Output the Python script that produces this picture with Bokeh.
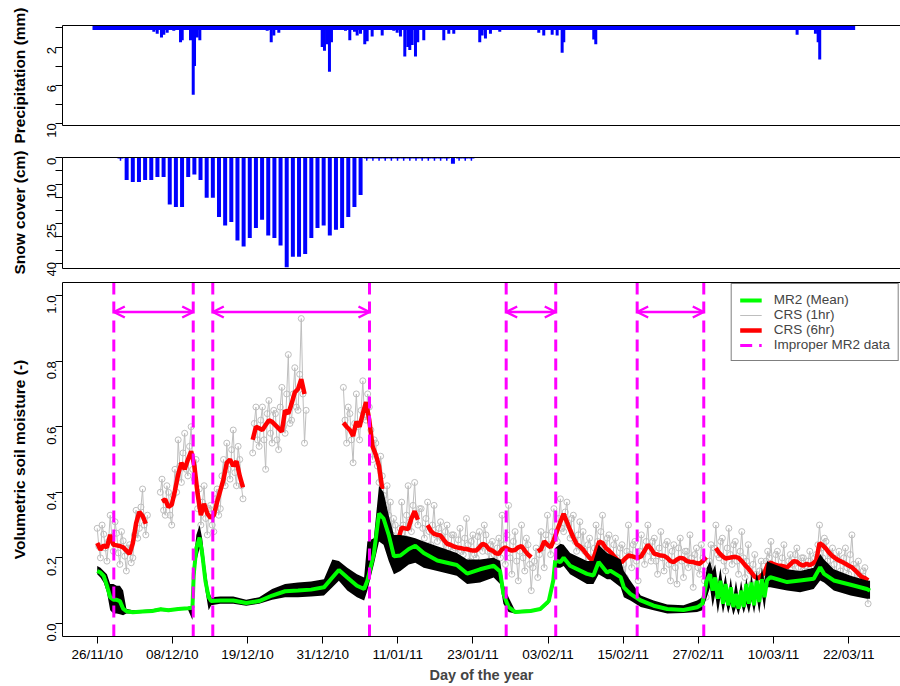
import math
from bokeh.plotting import figure
from bokeh.models import (Range1d, FixedTicker, LinearAxis, ColumnDataSource,
                          Legend, LegendItem, Arrow, OpenHead)
from bokeh.layouts import column, row
from bokeh.core.properties import value
from bokeh.embed import file_html
from bokeh.resources import INLINE

nan = float("nan")

# ---------------- data ----------------
# x unit: days since 26/11/10
precip_record = [-0.73, 117.0]
precip_day = [8.74, 9.26, 9.92, 10.28, 10.8, 11.82, 12.86, 13.12, 14.4, 14.82, 15.02, 15.43, 15.84,
              24.17, 26.24, 26.86, 27.26, 28.03, 34.73, 35.08, 35.5, 35.85, 36.16, 38.32, 38.99,
              39.71, 40.13, 40.64, 41.3, 41.67, 42.44, 43.99, 45.78, 46.3, 46.81, 47.48, 47.94,
              48.25, 48.62, 49.13, 49.48, 50.41, 53.5, 54.27, 55.04, 59.05, 59.42, 59.93, 60.7,
              62.14, 68.16, 68.93, 70.23, 71.0, 71.77, 72.02, 76.65, 76.96, 108.04, 110.87,
              111.29, 111.53]
precip_mm = [0.4, 0.6, 1.0, 0.7, 0.5, 0.3, 1.5, 1.3, 1.3, 7.0, 4.0, 1.0, 1.3,
             0.2, 0.3, 1.5, 0.8, 0.5, 2.0, 2.4, 1.7, 4.6, 1.5, 0.3, 1.3,
             0.4, 0.8, 0.6, 1.7, 1.4, 0.9, 0.8, 0.3, 0.5, 0.9, 3.0, 2.0,
             2.3, 1.8, 3.0, 1.5, 1.3, 1.3, 0.6, 0.6, 1.5, 0.8, 1.1, 0.6,
             0.4, 0.5, 0.8, 0.7, 0.8, 2.6, 1.5, 1.2, 1.7, 0.7, 0.6,
             1.5, 3.3]

snow_obs = list(range(58))          # daily snow readings (index)
snow_cm = [0, 8.4, 9.2, 9.2, 8.4, 8.4, 7.3, 7.3, 17.7, 18.7,
           18.7, 7.3, 6.3, 8.4, 15.2, 15.2, 22.5, 25.7, 24.4, 31.4,
           33.7, 30.4, 26.6, 23.5, 29.5, 30.4, 33.3, 41.5, 37.5, 37.5,
           36.5, 30.4, 26.6, 25.7, 29.5, 27.3, 26.6, 22.5, 18.7, 14.1,
           0, 0, 0, 0, 0, 0, 0, 0, 0, 0,
           0, 0, 0, 0, 2.3, 0, 0, 0]

tick_days = [0.0, 11.6, 23.2, 34.8, 46.4, 58.0, 69.6, 81.2, 92.8, 104.4, 116.0]
tick_labels = ["26/11/10", "08/12/10", "19/12/10", "31/12/10", "11/01/11", "23/01/11",
               "03/02/11", "15/02/11", "27/02/11", "10/03/11", "22/03/11"]

precip_ticks = [0, 2, 4, 6, 8, 10]
precip_tick_labels = ["", "2", "", "6", "", "10"]
snow_ticks = [0, 5, 10, 15, 20, 25, 30, 35, 40]
snow_tick_labels = ["0", "", "10", "", "", "25", "", "", "40"]
vsm_ticks = [0.0, 0.2, 0.4, 0.6, 0.8, 1.0]
vsm_tick_labels = ["0.0", "0.2", "0.4", "0.6", "0.8", "1.0"]

improper_start = [2.56, 17.84, 63.13, 83.35]
improper_end = [14.82, 42.03, 70.78, 93.63]

mr2_day = [0.0, 0.5, 1.0, 1.5, 2.0, 2.5, 3.0, 3.5, 4.0, 4.5, 5.5, 7.0, 8.5, 9.8, 11.0, 12.5, 14.0,
           14.7, 14.9, 15.3, 15.8, 16.2, 16.7, 17.2, 17.6, 19.0, 21.0, 23.0, 25.0, 27.0, 29.0,
           31.0, 33.0, 35.0, 36.3, 37.3, 38.6, 40.1, 41.2, 41.7, 42.7, 43.5, 44.2, 45.0, 45.8,
           46.8, 48.1, 49.1, 50.4, 52.5, 55.5, 57.1, 59.1, 61.2, 62.2, 62.7, 63.5, 64.5, 66.9,
           68.4, 69.7, 70.4, 70.7, 71.5, 72.0, 73.0, 75.6, 76.6, 77.4, 78.7, 79.2, 80.8, 81.3,
           82.3, 83.9, 85.9, 88.0, 90.5, 92.6, 93.4, 94.1, 94.6, 95.0, 95.4, 95.8, 96.2, 96.6,
           97.0, 97.4, 97.8, 98.2, 98.6, 99.0, 99.4, 99.8, 100.2, 100.6, 101.0, 101.4, 101.8,
           102.2, 102.6, 103.0, 103.4, 103.9, 106.5, 108.5, 110.6, 111.6, 112.2, 113.7, 116.3,
           118.8, 119.3]
mr2_mean = [0.160, 0.155, 0.145, 0.115, 0.080, 0.072, 0.072, 0.068, 0.045, 0.037, 0.034, 0.036,
            0.038, 0.043, 0.040, 0.044, 0.046, 0.048, 0.150, 0.230, 0.262, 0.215, 0.130, 0.080,
            0.068, 0.070, 0.070, 0.062, 0.068, 0.085, 0.098, 0.100, 0.103, 0.110, 0.140, 0.163,
            0.140, 0.115, 0.105, 0.130, 0.212, 0.335, 0.320, 0.270, 0.205, 0.207, 0.227, 0.237,
            0.215, 0.192, 0.178, 0.152, 0.165, 0.176, 0.158, 0.090, 0.050, 0.035, 0.038, 0.044,
            0.068, 0.131, 0.192, 0.187, 0.200, 0.176, 0.151, 0.146, 0.187, 0.155, 0.161, 0.141,
            0.110, 0.090, 0.070, 0.054, 0.044, 0.041, 0.049, 0.059, 0.131, 0.150, 0.100, 0.140,
            0.075, 0.130, 0.060, 0.120, 0.055, 0.110, 0.050, 0.090, 0.045, 0.100, 0.050, 0.120,
            0.060, 0.125, 0.055, 0.130, 0.065, 0.135, 0.080, 0.131, 0.141, 0.126, 0.131, 0.136,
            0.171, 0.151, 0.131, 0.118, 0.105, 0.100]
mr2_lo = [0.150, 0.140, 0.125, 0.095, 0.040, 0.030, 0.030, 0.028, 0.025, 0.030, 0.030, 0.032,
          0.034, 0.038, 0.036, 0.040, 0.042, 0.010, 0.100, 0.190, 0.230, 0.180, 0.100, 0.040,
          0.055, 0.060, 0.060, 0.054, 0.060, 0.072, 0.080, 0.080, 0.082, 0.085, 0.110, 0.130,
          0.100, 0.080, 0.070, 0.100, 0.180, 0.250, 0.240, 0.190, 0.150, 0.160, 0.180, 0.185,
          0.170, 0.160, 0.145, 0.120, 0.125, 0.140, 0.120, 0.060, 0.035, 0.030, 0.034, 0.040,
          0.060, 0.110, 0.170, 0.170, 0.175, 0.150, 0.120, 0.120, 0.150, 0.135, 0.135, 0.110,
          0.080, 0.070, 0.050, 0.040, 0.030, 0.032, 0.035, 0.040, 0.080, 0.110, 0.050, 0.090,
          0.030, 0.080, 0.030, 0.070, 0.030, 0.060, 0.025, 0.050, 0.025, 0.060, 0.030, 0.060,
          0.030, 0.070, 0.030, 0.080, 0.030, 0.090, 0.040, 0.110, 0.110, 0.100, 0.095, 0.105,
          0.131, 0.125, 0.100, 0.085, 0.075, 0.075]
mr2_hi = [0.175, 0.170, 0.160, 0.150, 0.120, 0.120, 0.115, 0.115, 0.100, 0.045, 0.040, 0.041,
          0.043, 0.048, 0.045, 0.048, 0.050, 0.052, 0.190, 0.270, 0.300, 0.260, 0.170, 0.100,
          0.080, 0.082, 0.082, 0.072, 0.080, 0.105, 0.120, 0.125, 0.128, 0.135, 0.195, 0.190,
          0.170, 0.150, 0.140, 0.250, 0.260, 0.420, 0.400, 0.330, 0.270, 0.270, 0.265, 0.260,
          0.250, 0.235, 0.215, 0.195, 0.195, 0.200, 0.190, 0.120, 0.080, 0.040, 0.042, 0.048,
          0.075, 0.150, 0.230, 0.243, 0.240, 0.215, 0.190, 0.190, 0.240, 0.215, 0.210, 0.195,
          0.160, 0.130, 0.085, 0.070, 0.058, 0.055, 0.070, 0.080, 0.170, 0.190, 0.160, 0.180,
          0.120, 0.170, 0.110, 0.150, 0.090, 0.140, 0.080, 0.130, 0.080, 0.130, 0.080, 0.140,
          0.090, 0.150, 0.090, 0.160, 0.110, 0.170, 0.130, 0.190, 0.185, 0.165, 0.160, 0.170,
          0.212, 0.195, 0.165, 0.145, 0.131, 0.130]

# CRS (1hr) readings, every quarter day from 26/11/10 (nan = no data)
crs1_step = 0.25
crs1 = [0.290, 0.235, 0.200, 0.300, 0.272, 0.230, 0.190, 0.250, 0.330, 0.265,
        0.220, 0.310, 0.275, 0.215, 0.180, 0.280, 0.252, 0.205, 0.160, 0.230,
        0.240, 0.185, 0.200, 0.270, 0.345, 0.260, 0.290, 0.355, 0.410, 0.300,
        0.270, 0.330, nan, nan, nan, nan, nan, nan, nan, 0.400,
        0.440, 0.345, 0.330, 0.420, 0.400, 0.330, 0.300, 0.390, 0.470, 0.400,
        0.560, 0.480, 0.430, 0.520, 0.580, 0.470, 0.450, 0.540, 0.600, 0.470,
        0.440, 0.500, 0.350, 0.410, 0.300, 0.370, 0.420, 0.320, 0.270, 0.350,
        0.360, 0.300, 0.280, 0.380, 0.410, 0.330, 0.350, 0.450, 0.500, 0.420,
        0.550, 0.470, 0.440, 0.530, 0.590, 0.460, 0.420, 0.540, 0.500, 0.420,
        0.380, nan, nan, nan, nan, nan, 0.520, 0.610, 0.660, 0.560,
        0.540, 0.620, 0.660, 0.560, 0.470, 0.640, 0.680, 0.580, 0.550, 0.650,
        0.640, 0.560, 0.530, 0.660, 0.720, 0.600, 0.580, 0.700, 0.820, 0.610,
        0.620, 0.700, 0.780, 0.660, 0.650, 0.760, 0.930, 0.700, 0.550, 0.650,
        nan, nan, nan, nan, nan, nan, nan, nan, nan, nan,
        nan, nan, nan, nan, nan, nan, nan, nan, nan, nan,
        nan, nan, 0.720, 0.620, 0.550, 0.660, 0.640, 0.560, 0.490, 0.610,
        0.700, 0.600, 0.560, 0.650, 0.740, 0.630, 0.620, 0.700, 0.660, 0.590,
        0.500, 0.560, 0.550, 0.480, 0.430, 0.510, 0.450, 0.390, 0.360, 0.420,
        0.330, 0.370, 0.270, 0.320, 0.300, 0.250, 0.230, 0.290, 0.370, 0.300,
        0.260, 0.330, 0.420, 0.310, 0.280, 0.360, 0.430, 0.330, 0.300, 0.350,
        0.350, 0.290, 0.260, 0.320, 0.370, 0.280, 0.240, 0.300, 0.360, 0.270,
        0.250, 0.290, 0.310, 0.260, 0.220, 0.280, 0.300, 0.230, 0.210, 0.270,
        0.270, 0.230, 0.200, 0.255, 0.290, 0.220, 0.210, 0.260, 0.320, 0.240,
        0.190, 0.250, 0.270, 0.210, 0.200, 0.265, 0.280, 0.235, 0.220, 0.300,
        0.270, 0.220, 0.190, 0.240, 0.250, 0.210, 0.170, 0.230, 0.260, 0.200,
        0.330, 0.240, 0.180, 0.270, 0.360, 0.200, 0.150, 0.250, 0.280, 0.190,
        0.130, 0.220, 0.300, 0.200, 0.160, 0.260, 0.240, 0.180, 0.100, 0.170,
        0.190, 0.230, 0.140, 0.210, 0.280, 0.230, 0.170, 0.270, 0.330, 0.240,
        0.210, 0.280, 0.350, 0.260, 0.250, 0.320, 0.380, 0.290, 0.280, 0.340,
        0.370, 0.300, 0.260, 0.320, 0.330, 0.250, 0.220, 0.270, 0.310, 0.230,
        0.280, 0.220, 0.180, 0.240, 0.260, 0.200, 0.160, 0.230, 0.300, 0.250,
        0.210, 0.280, 0.330, 0.240, 0.190, 0.260, 0.270, 0.210, 0.170, 0.240,
        0.260, 0.200, 0.150, 0.230, 0.240, 0.180, 0.140, 0.220, 0.300, 0.210,
        0.170, 0.240, 0.250, 0.190, 0.130, 0.220, 0.270, 0.210, 0.180, 0.250,
        0.300, 0.220, 0.190, 0.250, 0.260, 0.190, 0.150, 0.230, 0.280, 0.200,
        0.160, 0.240, 0.250, 0.180, 0.130, 0.220, 0.240, 0.170, 0.120, 0.230,
        0.260, 0.190, 0.140, 0.220, 0.220, 0.170, 0.270, 0.200, 0.110, 0.210,
        0.230, 0.170, 0.150, 0.240, 0.200, 0.130, 0.080, 0.160, 0.190, 0.240,
        0.150, 0.230, 0.300, 0.210, 0.200, 0.250, 0.260, 0.190, 0.160, 0.230,
        0.290, 0.210, 0.180, 0.240, 0.250, 0.190, 0.150, 0.220, 0.280, 0.200,
        0.140, 0.190, 0.240, 0.160, 0.120, 0.180, 0.210, 0.150, 0.110, 0.160,
        0.190, 0.140, 0.130, 0.190, 0.220, 0.200, 0.250, 0.170, 0.150, 0.210,
        0.220, 0.170, 0.140, 0.200, 0.240, 0.160, 0.130, 0.190, 0.210, 0.180,
        0.150, 0.210, 0.230, 0.170, 0.140, 0.200, 0.200, 0.160, 0.130, 0.190,
        0.220, 0.170, 0.140, 0.200, 0.210, 0.240, 0.300, 0.230, 0.200, 0.260,
        0.250, 0.190, 0.150, 0.210, 0.230, 0.180, 0.140, 0.200, 0.220, 0.160,
        0.130, 0.200, 0.230, 0.170, 0.150, 0.210, 0.270, 0.180, 0.120, 0.170,
        0.190, 0.140, 0.110, 0.160, 0.170, 0.120, 0.060]

# CRS (6hr) smoothed series, every half day from 26/11/10 (nan = no data)
crs6_step = 0.5
crs6 = [0.245, 0.225, 0.238, 0.232, 0.270, 0.240, 0.238, 0.236, 0.232, 0.222,
        0.212, 0.245, 0.305, 0.340, 0.328, 0.304, nan, nan, nan, nan,
        0.372, 0.378, 0.355, 0.362, 0.405, 0.455, 0.490, 0.470, 0.500, 0.525,
        0.480, 0.395, 0.330, 0.365, 0.335, 0.322, 0.330, 0.370, 0.405, 0.440,
        0.490, 0.500, 0.480, 0.495, 0.450, 0.415, nan, nan, 0.560, 0.600,
        0.595, 0.590, 0.605, 0.620, 0.615, 0.605, 0.595, 0.585, 0.650, 0.640,
        0.670, 0.705, 0.715, 0.745, 0.700, nan, nan, nan, nan, nan,
        nan, nan, nan, nan, nan, nan, 0.612, 0.600, 0.590, 0.572,
        0.615, 0.600, 0.640, 0.675, 0.620, 0.540, 0.515, 0.480, 0.410, nan,
        nan, nan, nan, 0.258, 0.292, 0.290, 0.288, 0.320, 0.342, 0.316,
        nan, nan, 0.300, 0.282, 0.273, 0.270, 0.268, 0.255, 0.243, 0.240,
        0.235, 0.232, 0.230, 0.228, 0.227, 0.224, 0.222, 0.222, 0.232, 0.243,
        0.238, 0.226, 0.222, 0.214, 0.212, 0.226, 0.232, 0.226, 0.222, 0.224,
        0.232, 0.236, 0.222, 0.210, 0.202, nan, 0.220, 0.226, 0.250, 0.240,
        0.232, 0.255, 0.283, 0.310, 0.334, 0.310, 0.285, 0.262, 0.242, 0.235,
        0.225, 0.212, 0.200, 0.192, 0.222, 0.250, 0.245, 0.230, 0.222, 0.212,
        0.200, 0.190, 0.187, 0.198, 0.207, 0.205, 0.202, 0.200, 0.205, 0.222,
        0.240, 0.228, 0.212, 0.210, 0.207, 0.206, 0.200, 0.190, 0.187, 0.195,
        0.200, 0.198, 0.190, 0.188, 0.187, 0.184, 0.182, 0.190, 0.202, nan,
        nan, 0.230, 0.215, 0.205, 0.198, 0.200, 0.202, 0.203, 0.200, 0.190,
        0.178, 0.168, 0.155, 0.142, 0.137, 0.145, 0.155, 0.180, 0.185, 0.180,
        0.177, 0.176, 0.174, 0.171, 0.180, 0.190, 0.188, 0.180, 0.176, 0.182,
        0.178, 0.183, 0.192, 0.245, 0.238, 0.228, 0.215, 0.205, 0.198, 0.192,
        0.187, 0.182, 0.176, 0.171, 0.162, 0.152, 0.142, 0.138, 0.131]

crs1_day = [i * crs1_step for i in range(len(crs1))]
crs6_day = [i * crs6_step for i in range(len(crs6))]

# ---------------- style ----------------
FONT = "Liberation Sans"
BLUE = "#0000FF"
MAG = "#FF00FF"
GREY = "#BEBEBE"
TITLE_W = 30
W = 870
LEFT = 32
ARROW_LEVEL = 0.95
TOTAL_H = 686


def empty_axis(ax):
    ax.ticker = FixedTicker(ticks=[])
    ax.major_tick_out = 0
    ax.major_tick_in = 0
    ax.minor_tick_out = 0
    ax.minor_tick_in = 0
    ax.major_label_standoff = 0
    ax.axis_line_color = "black"
    ax.axis_line_width = 1


def style_y(ax, ticks, labels):
    ax.ticker = FixedTicker(ticks=ticks)
    ax.major_label_overrides = {t: lab for t, lab in zip(ticks, labels)}
    ax.major_label_text_font = FONT
    ax.major_label_text_font_size = "13px"
    ax.major_label_text_color = "black"
    ax.major_label_orientation = math.pi / 2
    ax.major_label_standoff = 4
    ax.major_tick_in = 0
    ax.major_tick_out = 7
    ax.minor_tick_line_color = None
    ax.axis_line_color = "black"
    ax.major_tick_line_color = "black"


def make_fig(height, xr, yr, top, bottom):
    p = figure(width=W, height=height, x_range=xr, y_range=yr,
               output_backend="svg", toolbar_location=None,
               min_border_left=LEFT, min_border_right=0,
               min_border_top=top, min_border_bottom=bottom)
    p.grid.visible = False
    p.outline_line_color = None
    p.background_fill_color = "white"
    p.border_fill_color = "white"
    top_ax = LinearAxis()
    empty_axis(top_ax)
    p.add_layout(top_ax, "above")
    return p


# ---- axis titles column ----
ft = figure(width=TITLE_W, height=TOTAL_H, x_range=Range1d(0, TITLE_W),
            y_range=Range1d(0, TOTAL_H), x_axis_location=None, y_axis_location=None,
            output_backend="svg", toolbar_location=None, min_border=0)
ft.grid.visible = False
ft.outline_line_color = None
ft.text(x=[19, 19, 19], y=[TOTAL_H - 75, TOTAL_H - 212, TOTAL_H - 459],
        text=["Precipitation (mm)", "Snow cover (cm)", "Volumetric soil moisture (-)"],
        angle=math.pi / 2, text_align="center", text_baseline="middle",
        text_font=value(FONT), text_font_style="bold", text_font_size="15.5px",
        text_color="black")

# ---- precipitation panel ----
f1 = make_fig(150, Range1d(-5.36, 124.0), Range1d(10.24, -0.26), 25, 25)
empty_axis(f1.below[0])
style_y(f1.left[0], precip_ticks, precip_tick_labels)
f1.segment(x0=precip_day, y0=[0] * len(precip_day), x1=precip_day, y1=precip_mm,
           line_color=BLUE, line_width=3)
f1.line(x=precip_record, y=[0, 0], line_color=BLUE, line_width=4)

# ---- snow panel ----
f2 = make_fig(126, Range1d(-9.42, 126.7), Range1d(42.0, -0.11), 7, 8)
empty_axis(f2.below[0])
style_y(f2.left[0], snow_ticks, snow_tick_labels)
bars = [(i, v) for i, v in zip(snow_obs, snow_cm) if v > 0]
zeros = [i for i, v in zip(snow_obs, snow_cm) if v == 0]
f2.segment(x0=[b[0] for b in bars], y0=[0] * len(bars), x1=[b[0] for b in bars],
           y1=[b[1] for b in bars], line_color=BLUE, line_width=4)
f2.scatter(x=zeros, y=[0] * len(zeros), marker="cross", size=6, line_color=BLUE, line_width=1.5)

# ---- soil moisture panel ----
yr3 = Range1d(-0.04, 1.04)
f3 = make_fig(410, Range1d(-5.36, 124.0), yr3, 6, 50)
style_y(f3.left[0], vsm_ticks, vsm_tick_labels)
xa = f3.below[0]
xa.ticker = FixedTicker(ticks=tick_days)
xa.major_label_overrides = {t: lab for t, lab in zip(tick_days, tick_labels)}
xa.major_label_text_font = FONT
xa.major_label_text_font_size = "13.5px"
xa.major_label_text_color = "black"
xa.major_label_standoff = 3
xa.major_tick_in = 0
xa.major_tick_out = 7
xa.minor_tick_line_color = None
xa.axis_line_color = "black"
xa.axis_label = "Day of the year"
xa.axis_label_text_font = FONT
xa.axis_label_text_font_style = "bold"
xa.axis_label_text_font_size = "14.5px"
xa.axis_label_standoff = 2

grey_r = f3.line(crs1_day, crs1, line_color=GREY, line_width=1)
f3.scatter(crs1_day, crs1, marker="circle", size=6, fill_color=None,
           line_color=GREY, line_width=1)
red_r = f3.line(crs6_day, crs6, line_color="#FF0000", line_width=4.5)
f3.varea(x=mr2_day, y1=mr2_lo, y2=mr2_hi, fill_color="black")
green_r = f3.line(mr2_day, mr2_mean, line_color="#00FF00", line_width=4)

imp_all = improper_start + improper_end
mag_r = f3.segment(x0=imp_all, y0=[yr3.start] * len(imp_all), x1=imp_all,
                   y1=[yr3.end] * len(imp_all), line_color=MAG, line_width=3,
                   line_dash="12 7")
arr_src = ColumnDataSource(dict(x0=improper_start, x1=improper_end,
                                y=[ARROW_LEVEL] * len(improper_start)))
f3.add_layout(Arrow(start=OpenHead(size=11, line_color=MAG, line_width=2.5),
                    end=OpenHead(size=11, line_color=MAG, line_width=2.5),
                    x_start="x0", y_start="y", x_end="x1", y_end="y",
                    source=arr_src, line_color=MAG, line_width=2.5))

legend = Legend(items=[LegendItem(label="MR2 (Mean)", renderers=[green_r]),
                       LegendItem(label="CRS (1hr)", renderers=[grey_r]),
                       LegendItem(label="CRS (6hr)", renderers=[red_r]),
                       LegendItem(label="Improper MR2 data", renderers=[mag_r])],
                location="top_right", border_line_color="black", border_line_width=1,
                background_fill_alpha=1.0, padding=8, spacing=0, margin=1,
                glyph_width=22, glyph_height=14, label_height=14, label_standoff=12,
                label_text_font=FONT, label_text_font_size="13.5px")
f3.add_layout(legend)

layout = row(ft, column(f1, f2, f3, spacing=0), spacing=0)
open("out.html", "w").write(file_html(layout, INLINE))
